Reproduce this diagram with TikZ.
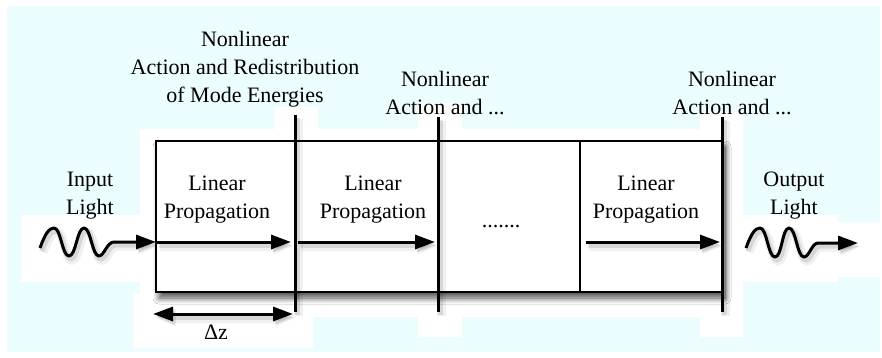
\documentclass[tikz,border=0pt]{standalone}
\usepackage{fontspec}
\setmainfont{Liberation Serif}
\usetikzlibrary{arrows.meta,shadows.blur}
\definecolor{paper}{RGB}{235,253,254}
\begin{document}
\begin{tikzpicture}[x=1pt,y=-1pt,
  lbl/.style={font=\fontsize{22}{28}\selectfont, align=center, inner sep=0pt, anchor=base},
  patch/.style={fill=white, draw=none},
  soft/.style={
    preaction={draw=black, opacity=0.06, line width=9pt, transform canvas={shift={(3pt,-4pt)}}},
    preaction={draw=black, opacity=0.10, line width=5pt, transform canvas={shift={(2pt,-3pt)}}}},
  head/.tip={Triangle[length=20pt,width=14pt]},
  ray/.style={line width=3pt, -head, soft},
  wall/.style={line width=3pt, soft},
  fiberbox/.style={draw, line width=1.8pt, fill=white, inner sep=0pt,
    minimum width=566pt, minimum height=151pt,
    blur shadow={shadow xshift=3pt, shadow yshift=-6pt, shadow opacity=70,
                 shadow blur radius=6pt, shadow blur steps=10}}]
\useasboundingbox (0,0) rectangle (882,358);

% light backdrop with white clearing around the drawing
\fill[paper] (7,6) rectangle (880,352);
\fill[patch] (140,129) rectangle (743,317);
\fill[patch] (275,107) rectangle (318,129);
\fill[patch] (418,103) rectangle (462,129);
\fill[patch] (700,112) rectangle (743,129);
\fill[patch] (21,215) rectangle (140,282);
\fill[patch] (743,215) rectangle (838,282);
\fill[patch] (838,222) rectangle (882,277);
\fill[patch] (133,293) rectangle (313,348);
\fill[patch] (418,317) rectangle (462,337);
\fill[patch] (700,317) rectangle (743,337);

% the fibre, split into steps
\node[fiberbox] (fiber) at (439,216.5) {};
\coordinate (sepT) at (580,141);
\coordinate (sepB) at (580,292);
\draw[line width=1.2pt] (sepT) -- (sepB);

% nonlinear action planes
\coordinate (w1t) at (295,115); \coordinate (w1b) at (295,312);
\coordinate (w2t) at (438,117); \coordinate (w2b) at (438,312);
\coordinate (w3t) at (722,117); \coordinate (w3b) at (722,312);
\draw[wall] (w1t) -- (w1b);
\draw[wall] (w2t) -- (w2b);
\draw[wall] (w3t) -- (w3b);

% linear propagation arrows
\coordinate (a1s) at (157,242); \coordinate (a1e) at (291,242);
\coordinate (a2s) at (298,242); \coordinate (a2e) at (435,242);
\coordinate (a3s) at (586,242); \coordinate (a3e) at (720,242);
\draw[ray] (a1s) -- (a1e);
\draw[ray] (a2s) -- (a2e);
\draw[ray] (a3s) -- (a3e);

% input and output light
\coordinate (inS) at (40,248);  \coordinate (inE) at (156,242);
\coordinate (outS) at (746,248); \coordinate (outE) at (858,243);
\draw[ray, line join=round] (inS) .. controls (45,234) and (49,228) .. (54,228)
  .. controls (61,228) and (62,256) .. (69,256)
  .. controls (76,256) and (77,228) .. (84,228)
  .. controls (91,228) and (92,256) .. (99,256)
  .. controls (104,256) and (107,242) .. (114,242) -- (inE);
\draw[ray, line join=round] (outS) .. controls (751,234) and (755,228) .. (760,228)
  .. controls (767,228) and (768,257) .. (775,257)
  .. controls (782,257) and (782,228) .. (789,228)
  .. controls (796,228) and (797,257) .. (804,257)
  .. controls (809,257) and (812,243) .. (818,243) -- (outE);

% step length
\coordinate (dzL) at (153,314); \coordinate (dzR) at (293,314);
\draw[line width=3pt, head-head, soft] (dzL) -- (dzR);

% labels (placed by the baseline of their last line)
\node[lbl] (nl1) at (245,103) {Nonlinear\\Action and Redistribution\\of Mode Energies};
\node[lbl] (nl2) at (445,115) {Nonlinear\\Action and ...};
\node[lbl] (nl3) at (732,115) {Nonlinear\\Action and ...};
\node[lbl] (lp1) at (217,218) {Linear\\Propagation};
\node[lbl] (lp2) at (373,218) {Linear\\Propagation};
\node[lbl] (lp3) at (646,218) {Linear\\Propagation};
\node[lbl] (inl) at (90,214) {Input\\Light};
\node[lbl] (outl) at (794,214) {Output\\Light};
\node[lbl] (dots) at (501,227) {.......};
\node[lbl] (dz) at (216,339) {Δz};
\end{tikzpicture}
\end{document}
